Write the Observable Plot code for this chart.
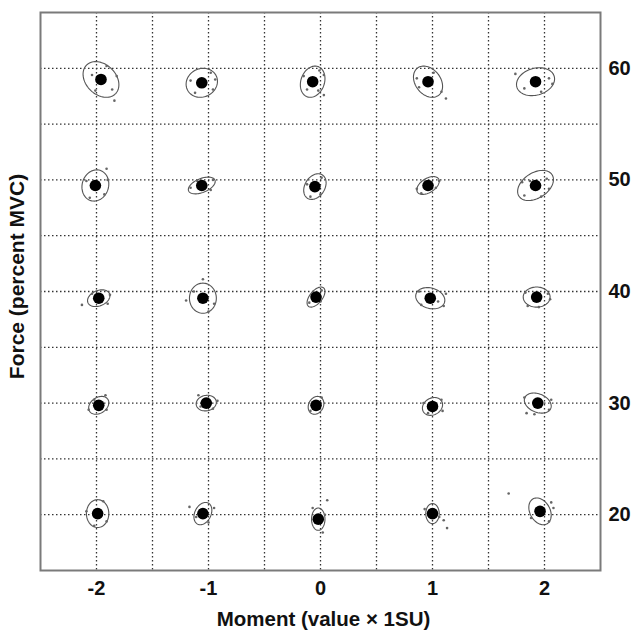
<!DOCTYPE html>
<html><head><meta charset="utf-8">
<script src="https://cdn.jsdelivr.net/npm/d3@7"></script>
<script src="https://cdn.jsdelivr.net/npm/@observablehq/plot@0.6"></script>
<style>body{margin:0;background:#fff}</style>
</head><body><div id="chart"></div>
<script>
// Target levels
const moments = [-2, -1, 0, 1, 2];
const forceLevels = [60, 50, 40, 30, 20];
const xTicks = [-2, -1, 0, 1, 2];
const yTicks = [20, 30, 40, 50, 60];
const xGridValues = [-2, -1.5, -1, -0.5, 0, 0.5, 1, 1.5, 2];
const yGridValues = [20, 25, 30, 35, 40, 45, 50, 55, 60];

// Mean produced moment (rows follow forceLevels, columns follow moments)
const meanMoment = [
  [-1.96, -1.06, -0.07, 0.96, 1.92],
  [-2.01, -1.06, -0.05, 0.96, 1.92],
  [-1.98, -1.05, -0.04, 0.98, 1.93],
  [-1.98, -1.02, -0.04, 1.00, 1.94],
  [-1.99, -1.05, -0.02, 1.00, 1.96]
];
// Mean produced force
const meanForce = [
  [59.0, 58.7, 58.8, 58.8, 58.8],
  [49.5, 49.5, 49.4, 49.5, 49.5],
  [39.4, 39.4, 39.5, 39.4, 39.5],
  [29.8, 30.0, 29.8, 29.7, 30.0],
  [20.1, 20.1, 19.6, 20.1, 20.3]
];
// Ellipse half-extent in moment units
const ellipseMoment = [
  [0.16, 0.14, 0.11, 0.13, 0.17],
  [0.12, 0.12, 0.10, 0.10, 0.16],
  [0.10, 0.12, 0.08, 0.13, 0.12],
  [0.09, 0.09, 0.07, 0.09, 0.12],
  [0.10, 0.08, 0.06, 0.06, 0.10]
];
// Ellipse half-extent in force units
const ellipseForce = [
  [1.6, 1.3, 1.4, 1.4, 1.25],
  [1.4, 0.75, 1.15, 0.8, 1.35],
  [0.75, 1.35, 0.9, 0.95, 0.9],
  [0.8, 0.7, 0.8, 0.8, 0.9],
  [1.25, 1.0, 1.0, 0.9, 1.2]
];
// Ellipse orientation (phase; + means tilted up-right)
const ellipseTilt = [
  [-0.3, 0.1, 0.2, -0.3, 0.2],
  [0.1, 0.5, 0.3, 0.5, 0.4],
  [0.3, 0.0, 0.6, -0.2, 0.0],
  [0.3, 0.1, 0.2, 0.2, -0.3],
  [0.0, 0.3, 0.0, 0.0, -0.3]
];
// Individual trials: [target moment, target force, offset moment, offset force] from the mean
const trialOffsets = [
  [-2,60,0.05,1.2],[-2,60,-0.08,0.4],[-2,60,0.1,-0.9],[-2,60,0.12,-1.9],[-2,60,-0.05,-1.0],[-2,60,0.14,0.3],
  [-1,60,0.08,0.9],[-1,60,-0.1,0.2],[-1,60,0.1,-0.6],[-1,60,-0.06,-0.9],[-1,60,0.12,0.3],
  [0,60,0.06,1.0],[0,60,-0.08,0.5],[0,60,0.05,-0.8],[0,60,0.1,0.6],[0,60,-0.05,-0.7],[0,60,0.1,-1.2],
  [1,60,-0.1,0.3],[1,60,0.05,0.8],[1,60,0.12,-0.9],[1,60,0.16,-1.5],[1,60,-0.08,-0.5],
  [2,60,-0.18,0.7],[2,60,0.12,0.3],[2,60,0.15,-0.2],[2,60,-0.1,-0.6],[2,60,0.05,-0.9],
  [-2,50,0.1,1.5],[-2,50,-0.08,0.4],[-2,50,0.08,-0.8],[-2,50,-0.05,-1.1],[-2,50,0.11,0.5],
  [-1,50,0.1,0.5],[-1,50,-0.1,-0.2],[-1,50,0.08,-0.4],[-1,50,-0.04,0.4],
  [0,50,0.06,0.8],[0,50,-0.07,0.2],[0,50,0.05,-0.7],[0,50,-0.04,-0.9],
  [1,50,-0.1,-0.3],[1,50,0.1,0.4],[1,50,0.07,-0.2],[1,50,-0.06,-0.7],
  [2,50,-0.1,-0.9],[2,50,0.1,0.6],[2,50,-0.05,0.4],[2,50,0.12,-0.3],[2,50,-0.12,0.3],[2,50,0.05,-1.0],
  [-2,40,-0.15,-0.6],[-2,40,0.1,0.3],[-2,40,0.08,-0.5],[-2,40,-0.06,0.4],
  [-1,40,0.0,1.7],[-1,40,-0.15,-0.2],[-1,40,0.05,-1.2],[-1,40,0.1,-0.5],[-1,40,-0.08,0.6],
  [0,40,0.05,0.6],[0,40,-0.06,-0.5],[0,40,0.04,-0.4],
  [1,40,-0.1,0.6],[1,40,0.12,-0.7],[1,40,0.07,-0.3],[1,40,-0.08,-0.6],[1,40,0.14,0.4],
  [2,40,-0.1,0.4],[2,40,0.1,0.3],[2,40,-0.08,-0.8],[2,40,0.02,-0.9],[2,40,0.12,-0.2],
  [-2,30,0.06,0.9],[-2,30,-0.09,-0.4],[-2,30,0.07,-0.4],[-2,30,-0.04,0.5],
  [-1,30,-0.07,0.7],[-1,30,0.1,0.2],[-1,30,0.06,-0.5],[-1,30,-0.05,-0.3],
  [0,30,0.05,0.7],[0,30,-0.05,-0.5],[0,30,0.04,0.2],
  [1,30,-0.08,0.3],[1,30,0.08,0.6],[1,30,-0.04,-0.6],[1,30,0.09,-0.4],
  [2,30,-0.12,0.5],[2,30,-0.1,-0.9],[2,30,0.12,0.3],[2,30,-0.03,-1.0],[2,30,0.1,-0.6],
  [-2,20,-0.1,0.2],[-2,20,0.05,1.1],[-2,20,0.08,-0.7],[-2,20,-0.03,-1.1],
  [-1,20,-0.12,0.6],[-1,20,0.1,0.5],[-1,20,0.05,-0.8],[-1,20,-0.06,-0.3],
  [0,20,0.08,1.7],[0,20,-0.05,1.0],[0,20,0.04,-1.2],[0,20,0.06,0.4],
  [1,20,-0.07,0.4],[1,20,0.1,-0.6],[1,20,0.13,-1.3],[1,20,0.06,-0.3],
  [2,20,-0.28,1.6],[2,20,0.1,0.8],[2,20,-0.08,-0.6],[2,20,0.08,-0.9],[2,20,0.12,0.3]
];

const xLabel = "Moment (value × 1SU)";
const yLabel = "Force (percent MVC)";

// Build tables
const means = [];
const ellipsePts = [];
forceLevels.forEach((f, i) => {
  moments.forEach((m, j) => {
    const cx = meanMoment[i][j], cy = meanForce[i][j];
    means.push({m, f, x: cx, y: cy});
    const a = ellipseMoment[i][j], b = ellipseForce[i][j], p = ellipseTilt[i][j];
    for (let k = 0; k <= 72; k++) {
      const t = (k / 72) * 2 * Math.PI;
      ellipsePts.push({id: `${m}_${f}`, x: cx + a * Math.cos(t), y: cy + b * Math.sin(t + p)});
    }
  });
});
const meanLookup = new Map(means.map(d => [`${d.m}_${d.f}`, d]));
const trials = trialOffsets.map(([m, f, dx, dy]) => {
  const c = meanLookup.get(`${m}_${f}`);
  return {x: c.x + dx, y: c.y + dy};
});

const chart = Plot.plot({
  width: 633,
  height: 630,
  marginLeft: 40,
  marginRight: 33,
  marginTop: 12,
  marginBottom: 60,
  x: {domain: [-2.5, 2.5]},
  y: {domain: [15, 65]},
  style: {fontFamily: "'Liberation Sans', Arial, sans-serif", background: "#fff", color: "#111"},
  marks: [
    Plot.gridX(xGridValues, {stroke: "#333", strokeOpacity: 1, strokeWidth: 1.3, strokeDasharray: "1.5,2.5"}),
    Plot.gridY(yGridValues, {stroke: "#333", strokeOpacity: 1, strokeWidth: 1.3, strokeDasharray: "1.5,2.5"}),
    Plot.line(ellipsePts, {x: "x", y: "y", z: "id", stroke: "#555", strokeWidth: 1.1}),
    Plot.dot(trials, {x: "x", y: "y", r: 1.3, fill: "#666", stroke: "none"}),
    Plot.dot(means, {x: "x", y: "y", r: 5.8, fill: "#000", stroke: "none"}),
    Plot.frame({stroke: "#7a7a7a", strokeWidth: 2}),
    Plot.axisX({ticks: xTicks, tickSize: 0, tickPadding: 10, tickFormat: d => String(d), fontSize: 20, fontWeight: "bold", label: null}),
    Plot.axisY({anchor: "right", ticks: yTicks, tickSize: 0, tickPadding: 8, tickFormat: d => String(d), fontSize: 20, fontWeight: "bold", label: null}),
    Plot.text([xLabel], {frameAnchor: "bottom", dy: 55, dx: 3, fontSize: 20.5, fontWeight: "bold"}),
    Plot.text([yLabel], {frameAnchor: "left", textAnchor: "middle", rotate: -90, dx: -23, dy: -15, fontSize: 21, fontWeight: "bold"})
  ]
});
document.getElementById("chart").appendChild(chart);
</script>
</body></html>
